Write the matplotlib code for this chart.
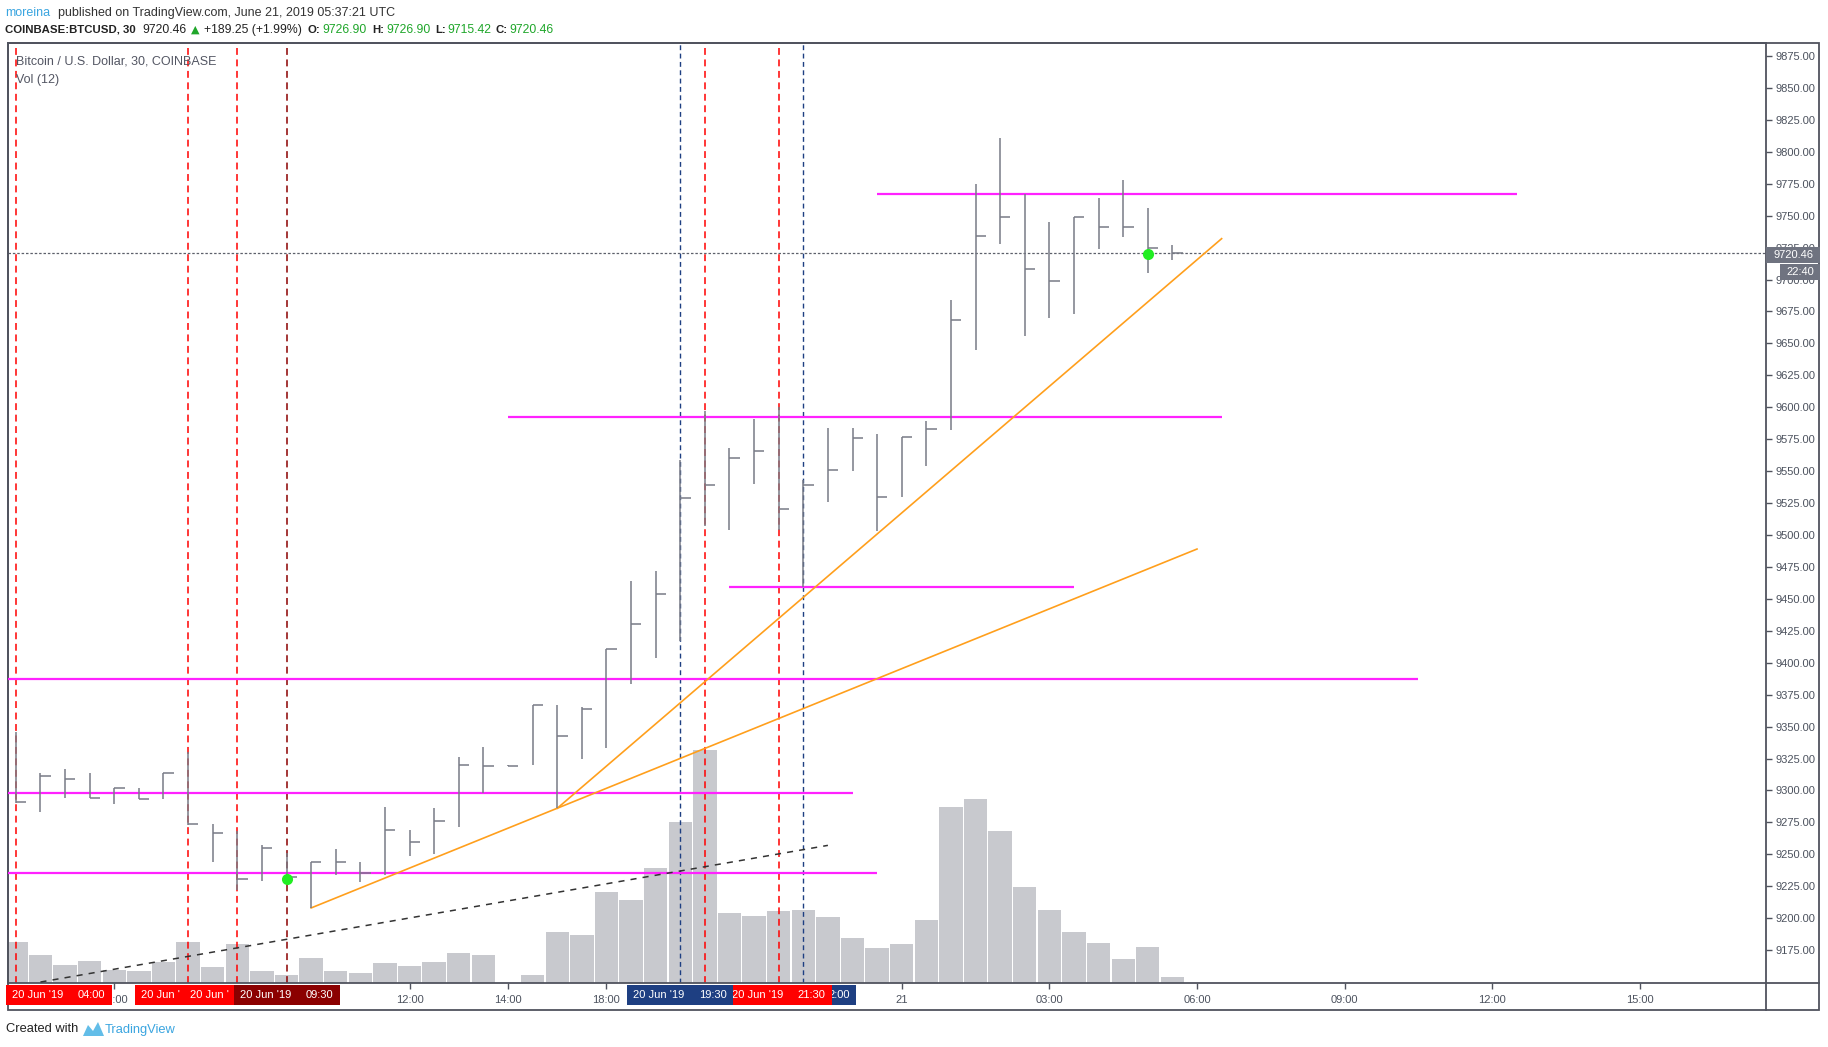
import numpy as np
import matplotlib
matplotlib.use('Agg')
import matplotlib.pyplot as plt
from matplotlib.patches import Rectangle, Polygon
from matplotlib.lines import Line2D
from matplotlib.transforms import Bbox, TransformedBbox

plt.rcParams['font.family'] = ['Liberation Sans', 'DejaVu Sans']

W, H = 1828, 1047

# COINBASE:BTCUSD 30 min bars, 20 Jun 2019 04:00 -> 21 Jun 05:30 (14:30-16:00 missing)
times = ['04:00', '04:30', '05:00', '05:30', '06:00', '06:30', '07:00', '07:30',
         '08:00', '08:30', '09:00', '09:30', '10:00', '10:30', '11:00', '11:30',
         '12:00', '12:30', '13:00', '13:30', '14:00', '16:30', '17:00', '17:30',
         '18:00', '18:30', '19:00', '19:30', '20:00', '20:30', '21:00', '21:30',
         '22:00', '22:30', '23:00', '23:30', '00:00', '00:30', '01:00', '01:30',
         '02:00', '02:30', '03:00', '03:30', '04:00', '04:30', '05:00', '05:30']
highs = [9346, 9314, 9317, 9314, 9302, 9302, 9314, 9330, 9274, 9268, 9257, 9251,
         9244, 9254, 9244, 9287, 9269, 9286, 9326, 9334, 9320, 9367, 9367, 9365,
         9411, 9464, 9472, 9559, 9597, 9568, 9591, 9600, 9543, 9584, 9584, 9579,
         9577, 9589, 9684, 9775, 9811, 9767, 9745, 9749, 9764, 9778, 9756, 9726.90]
lows = [9290, 9283, 9294, 9294, 9289, 9293, 9293, 9273, 9244, 9222, 9229, 9228,
        9208, 9234, 9228, 9234, 9249, 9250, 9271, 9298, 9319, 9320, 9286, 9325,
        9333, 9383, 9404, 9417, 9507, 9504, 9540, 9504, 9459, 9526, 9550, 9503,
        9530, 9554, 9582, 9645, 9728, 9656, 9670, 9673, 9724, 9733, 9705, 9715.42]
closes = [9291, 9311, 9309, 9294, 9302, 9293, 9314, 9274, 9267, 9231, 9255, 9232,
          9244, 9244, 9235, 9269, 9260, 9276, 9320, 9319, 9319, 9367, 9343, 9364,
          9411, 9430, 9454, 9529, 9539, 9560, 9566, 9520, 9539, 9551, 9576, 9530,
          9577, 9583, 9668, 9734, 9749, 9708, 9699, 9749, 9741, 9741, 9725, 9720.46]
volumes = [204, 139, 89, 109, 64, 59, 104, 204, 79, 194, 59, 39,
           124, 59, 49, 99, 84, 104, 149, 139, 0, 39, 254, 239,
           454, 413, 574, 805, 1165, 350, 334, 360, 364, 328, 224, 174,
           194, 314, 880, 919, 758, 477, 364, 253, 200, 120, 178, 28]
last_price = 9720.46

# time axis labels (bar index, text)
tick_pos = [4, 16, 20, 24, 36, 42, 48, 54, 60, 66]
tick_lbl = ['06:00', '12:00', '14:00', '18:00', '21', '03:00', '06:00', '09:00', '12:00', '15:00']

# drawings
hlines_y = [9767, 9592, 9459, 9387, 9298, 9235]
hlines_x0 = [35, 20, 29, -1, -1, -1]
hlines_x1 = [61, 49, 43, 57, 34, 35]
trend_orange = [((12, 9208), (48, 9489)), ((22, 9286), (49, 9732))]
trend_black = ((1.0, 9150), (33, 9257))
dots_x = [11, 46]
dots_y = [9231, 9720]
# vertical markers: (bar index, visible date text, visible time text, colour),
# listed bottom -> top; overlapping labels hide parts of the ones below
vmarks = [(0, "20 Jun '19", '04:00', '#ff0000'),
          (7, "20 Jun '", '', '#ff0000'),
          (9, "20 Jun '", '', '#ff0000'),
          (11, "20 Jun '19", '09:30', '#8b0000'),
          (28, '', '', '#ff0000'),
          (32, '', '2:00', '#1e3f82'),
          (31, "20 Jun '19", '21:30', '#ff0000'),
          (27, "20 Jun '19", '19:30', '#1e3f82')]


def fx(x):
    return x / W


def fy(y):
    return 1 - y / H


fig = plt.figure(figsize=(W / 100, H / 100), dpi=100)
fig.patch.set_facecolor('white')

L, R, T, B = 8.2, 1766.2, 43.1, 982.8
rect = [fx(L), fy(B), (R - L) / W, (B - T) / H]
ax_vol = fig.add_axes(rect, zorder=0)
ax = fig.add_axes(rect, zorder=1)
ax.set_facecolor('none')

pos = np.arange(len(times))
xlim = (-0.31, 71.13)

# volume overlay
ax_vol.bar(pos, volumes, width=0.95, color='#c8c9ce', edgecolor='none')
ax_vol.set_xlim(xlim)
ax_vol.set_ylim(0, 4698)
ax_vol.axis('off')

grey = '#50535e'
# vertical dashed markers
for p, d, t, c in vmarks:
    if c == '#1e3f82':
        ax.axvline(p, color=c, lw=1.0, ls=(0, (3.5, 2.5)), zorder=2)
    else:
        ax.axvline(p, color=c, lw=1.1, ls=(0, (4.5, 3)), zorder=2)

# horizontal levels
ax.hlines(hlines_y, hlines_x0, hlines_x1, color='#ff22ff', lw=1.6, zorder=3)
for (x0, y0), (x1, y1) in trend_orange:
    ax.plot([x0, x1], [y0, y1], color='#ff9f1c', lw=1.2, zorder=3)
ax.plot([trend_black[0][0], trend_black[1][0]], [trend_black[0][1], trend_black[1][1]],
        color='#333333', lw=1.1, ls=(0, (4, 4)), zorder=3)

# last price dotted line
ax.axhline(last_price, color='#5d606b', lw=0.9, ls=(0, (2, 1.5)), zorder=2)

# HLC bars
bc = '#787b86'
ax.vlines(pos, lows, highs, color=bc, lw=1.1, zorder=4)
ax.hlines(closes, pos, pos + 0.42, color=bc, lw=1.1, zorder=4)

ax.plot(dots_x, dots_y, 'o', color='#22ee22', ms=8, mec='none', zorder=5)

ax.set_xlim(xlim)
ax.set_ylim(9149.4, 9885.1)

# axes styling
for s in ax.spines.values():
    s.set_color(grey)
    s.set_linewidth(1.3)
ax.yaxis.tick_right()
ax.set_yticks(np.arange(9175, 9876, 25))
ax.set_yticklabels(['%.2f' % v for v in np.arange(9175, 9876, 25)])
ax.tick_params(axis='y', direction='out', length=4, width=1, color=grey,
               labelcolor='#4c525e', labelsize=8, pad=3)
ax.set_xticks(tick_pos)
ax.set_xticklabels(tick_lbl)
ax.tick_params(axis='x', direction='out', length=4, width=1, color=grey,
               labelcolor='#4c525e', labelsize=8, pad=5)

# marker labels on the time axis
bw = 53 / 24.61
xt = ax.get_xaxis_transform()
y0 = (B - 1005) / (B - T)
bh = 20 / (B - T)
for k, (p, d, t, c) in enumerate(vmarks):
    left = max(p - bw, -0.41)
    z = 10 + k
    ax.add_patch(Rectangle((left, y0), 2 * bw, bh, transform=xt, facecolor=c,
                           edgecolor='none', clip_on=False, zorder=z))
    ym = y0 + bh / 2
    clip = TransformedBbox(Bbox([[left, y0], [left + 2 * bw, y0 + bh]]), xt)
    for s, xpos, ha in [(d, left + 0.25, 'left'), (t, left + 2 * bw - 0.25, 'right')]:
        if not s:
            continue
        txt = ax.text(xpos, ym, s, transform=xt, color='white', fontsize=8,
                      ha=ha, va='center', zorder=z + 0.5)
        txt.set_clip_path(None)
        txt.set_clip_box(clip)
        txt.set_clip_on(True)

# outer frame and axis separators
fig.add_artist(Rectangle((fx(L), fy(1009.6)), (1818.6 - L) / W, (1009.6 - T) / H,
                         transform=fig.transFigure, fill=False, edgecolor=grey, lw=1.3))
fig.add_artist(Line2D([fx(R), fx(R)], [fy(B), fy(1009.6)], color=grey, lw=1.3))
fig.add_artist(Line2D([fx(R), fx(1818.6)], [fy(B), fy(B)], color=grey, lw=1.3))

# last price / countdown labels on the price scale
pc = '#6f7380'
fig.add_artist(Rectangle((fx(1766), fy(262.5)), 54 / W, 16 / H, transform=fig.transFigure,
                         facecolor=pc, edgecolor='none', zorder=5))
fig.text(fx(1774), fy(254.5), '%.2f' % last_price, color='white', fontsize=8,
         ha='left', va='center', zorder=6)
fig.add_artist(Rectangle((fx(1780), fy(280)), 40 / W, 16 / H, transform=fig.transFigure,
                         facecolor=pc, edgecolor='none', zorder=5))
fig.text(fx(1800), fy(272), '22:40', color='white', fontsize=8,
         ha='center', va='center', zorder=6)

# header
fig.text(fx(5.4), fy(13), 'moreina', color='#3aa5e0', fontsize=9, va='center')
fig.text(fx(58), fy(13), 'published on TradingView.com, June 21, 2019 05:37:21 UTC',
         color='#333333', fontsize=9, va='center')
green = '#1fa62a'
segs = [('COINBASE:BTCUSD, 30', 5.4, '#222222', 'bold'),
        ('9720.46', 142, '#222222', 'normal'),
        ('\u25B2', 191, green, 'normal'),
        ('+189.25 (+1.99%)', 204.5, '#222222', 'normal'),
        ('O:', 308, '#222222', 'bold'), ('9726.90', 322, green, 'normal'),
        ('H:', 372, '#222222', 'bold'), ('9726.90', 386.6, green, 'normal'),
        ('L:', 435.7, '#222222', 'bold'), ('9715.42', 447.8, green, 'normal'),
        ('C:', 496, '#222222', 'bold'), ('9720.46', 509, green, 'normal')]
for s, x, c, w in segs:
    size = 8.2 if w == 'bold' else 8.8
    t = fig.text(fx(x), fy(30), s, color=c, fontsize=size, fontweight=w, va='center')
    if s == '\u25B2':
        t.set_fontfamily(['DejaVu Sans'])
        t.set_fontsize(8)

# legend inside the pane
fig.text(fx(15.6), fy(61), 'Bitcoin / U.S. Dollar, 30, COINBASE', color='#535663',
         fontsize=9, va='center')
fig.text(fx(15.6), fy(80), 'Vol (12)', color='#535663', fontsize=9, va='center')

# footer
fig.text(fx(6), fy(1029.5), 'Created with', color='#222222', fontsize=9.3, va='center')
fig.add_artist(Polygon([(fx(83), fy(1036)), (fx(88), fy(1025)), (fx(93), fy(1031)),
                        (fx(98), fy(1022)), (fx(104), fy(1036))],
                       closed=True, facecolor='#62bde8', edgecolor='none',
                       transform=fig.transFigure))
fig.text(fx(105), fy(1029.5), 'TradingView', color='#3aa5e0', fontsize=9.3, va='center')

fig.savefig('out.png', dpi=100)
